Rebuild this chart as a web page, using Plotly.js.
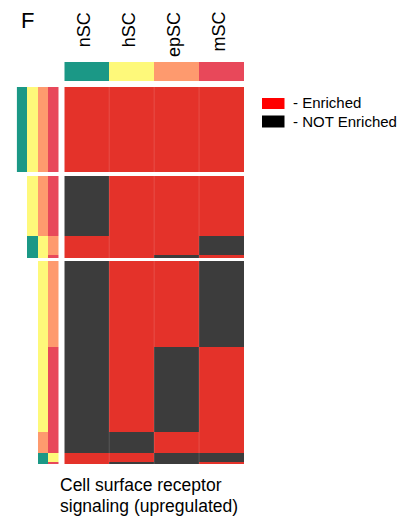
<!DOCTYPE html>
<html>
<head>
<meta charset="utf-8">
<script src="https://cdn.plot.ly/plotly-3.0.1.min.js"></script>
<style>
  html, body { margin: 0; padding: 0; background: #fff; }
  #chart { width: 412px; height: 520px; }
</style>
</head>
<body>
<div id="chart"></div>
<script>
// Cell types (heatmap columns) and their key colours
const cellTypes = ['nSC', 'hSC', 'epSC', 'mSC'];
const typeColors = ['#1B9886', '#FEF97A', '#FE9A6E', '#E8485A'];

// Enrichment pattern of each gene group (1 = enriched, 0 = not enriched)
const groupPatterns = [
  [1, 1, 1, 1],
  [0, 1, 1, 1],
  [1, 1, 1, 0],
  [1, 1, 0, 1],
  [0, 1, 1, 0],
  [0, 1, 0, 1],
  [0, 0, 1, 1],
  [1, 1, 0, 0],
  [1, 0, 0, 1]
];
// Number of genes (rows) in each group
const groupSizes = [78, 55, 17, 3, 78, 78, 19, 8, 2];
// Block each group belongs to (4, 3 or 2 enriched types)
const groupBlocks = [0, 1, 1, 1, 2, 2, 2, 2, 2];

const enrichColor = '#E4322A';
const notEnrichColor = '#3C3C3C';
const FONT = 'Liberation Sans, Arial, Helvetica, sans-serif';

// Build the row matrices; empty rows separate the blocks
const GAP_ROWS = 3;
const zMain = [];
const zKey = [];
let prevBlock = groupBlocks[0];
groupPatterns.forEach((pattern, g) => {
  if (groupBlocks[g] !== prevBlock) {
    for (let k = 0; k < GAP_ROWS; k++) {
      zMain.push([null, null, null, null]);
      zKey.push([null, null, null, null]);
    }
    prevBlock = groupBlocks[g];
  }
  // key strip: enriched types packed to the right
  const enriched = [];
  pattern.forEach((v, i) => { if (v) enriched.push(i + 1); });
  const keyRow = [null, null, null, null];
  enriched.forEach((t, j) => { keyRow[4 - enriched.length + j] = t; });
  for (let r = 0; r < groupSizes[g]; r++) {
    zMain.push(pattern.slice());
    zKey.push(keyRow.slice());
  }
});
const nRows = zMain.length;
const rowIndex = zMain.map((_, i) => i);
const colIndex = cellTypes.map((_, i) => i);

const binaryScale = [[0, notEnrichColor], [0.5, notEnrichColor], [0.5, enrichColor], [1, enrichColor]];
const typeScale = [];
typeColors.forEach((c, i) => { typeScale.push([i / 4, c]); typeScale.push([(i + 1) / 4, c]); });

const W = 412, H = 520;
const px = v => v / W;
const py = v => 1 - v / H;

const traces = [
  {
    type: 'heatmap', x: colIndex, y: rowIndex, z: zMain,
    zmin: 0, zmax: 1, colorscale: binaryScale, showscale: false,
    xaxis: 'x', yaxis: 'y', hoverinfo: 'skip'
  },
  {
    type: 'heatmap', x: colIndex, y: rowIndex, z: zKey,
    zmin: 0.5, zmax: 4.5, colorscale: typeScale, showscale: false,
    xaxis: 'x2', yaxis: 'y', hoverinfo: 'skip'
  },
  {
    type: 'heatmap', x: colIndex, y: [0], z: [colIndex.map(i => i + 1)],
    zmin: 0.5, zmax: 4.5, colorscale: typeScale, showscale: false,
    xaxis: 'x', yaxis: 'y2', hoverinfo: 'skip'
  }
];

const hidden = { showgrid: false, zeroline: false, showticklabels: false, ticks: '', showline: false, fixedrange: true };

const annotations = [
  { text: 'F', xref: 'paper', yref: 'paper', x: px(19), y: py(6), xanchor: 'left', yanchor: 'top',
    showarrow: false, font: { family: FONT, size: 22, color: '#000' } },
  { text: 'Cell surface receptor', xref: 'paper', yref: 'paper', x: px(58), y: py(485), xanchor: 'left', yanchor: 'middle',
    showarrow: false, font: { family: FONT, size: 17.5, color: '#000' } },
  { text: 'signaling (upregulated)', xref: 'paper', yref: 'paper', x: px(58), y: py(506), xanchor: 'left', yanchor: 'middle',
    showarrow: false, font: { family: FONT, size: 17.5, color: '#000' } },
  { text: '- Enriched', xref: 'paper', yref: 'paper', x: px(291), y: py(103), xanchor: 'left', yanchor: 'middle',
    showarrow: false, font: { family: FONT, size: 15, color: '#000' } },
  { text: '- NOT Enriched', xref: 'paper', yref: 'paper', x: px(291), y: py(121.5), xanchor: 'left', yanchor: 'middle',
    showarrow: false, font: { family: FONT, size: 15, color: '#000' } }
];
cellTypes.forEach((name, i) => {
  annotations.push({
    text: name, xref: 'x', yref: 'paper', x: i, y: py(10), xanchor: 'center', yanchor: 'top',
    textangle: -90, xshift: -3, showarrow: false, font: { family: FONT, size: 18, color: '#000' }
  });
});

const shapes = [
  { type: 'rect', xref: 'paper', yref: 'paper', x0: px(262), x1: px(284.5), y0: py(109), y1: py(98),
    fillcolor: '#FF0000', line: { width: 0 } },
  { type: 'rect', xref: 'paper', yref: 'paper', x0: px(262), x1: px(284.5), y0: py(127.5), y1: py(115.5),
    fillcolor: '#000000', line: { width: 0 } }
];
// faint column dividers across the heatmap
[0.5, 1.5, 2.5].forEach(xv => {
  shapes.push({ type: 'line', xref: 'x', yref: 'y domain', x0: xv, x1: xv, y0: 0, y1: 1,
    line: { color: 'rgba(255,255,255,0.14)', width: 1 } });
});

const layout = {
  width: W, height: H,
  margin: { l: 0, r: 0, t: 0, b: 0 },
  paper_bgcolor: '#fff', plot_bgcolor: '#fff',
  showlegend: false,
  xaxis: Object.assign({ domain: [px(64.3), px(244)], range: [-0.5, 3.5], anchor: 'y' }, hidden),
  xaxis2: Object.assign({ domain: [px(16.7), px(58.7)], range: [-0.5, 3.5], anchor: 'y' }, hidden),
  yaxis: Object.assign({ domain: [py(464), py(87)], range: [nRows - 0.5, -0.5], anchor: 'x' }, hidden),
  yaxis2: Object.assign({ domain: [py(81), py(62)], range: [-0.5, 0.5], anchor: 'x' }, hidden),
  annotations: annotations,
  shapes: shapes
};

Plotly.newPlot('chart', traces, layout, { displayModeBar: false, staticPlot: true });
</script>
</body>
</html>
